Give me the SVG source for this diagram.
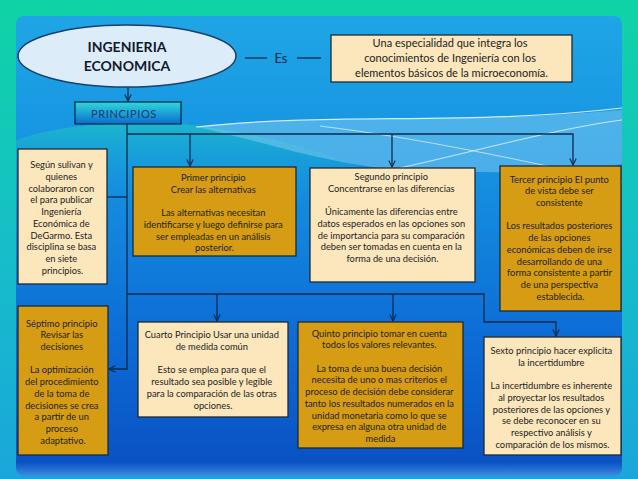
<svg xmlns="http://www.w3.org/2000/svg" width="638" height="479" viewBox="0 0 638 479">
<defs>
<style>
.t{font-family:Lato,"Liberation Sans",sans-serif;font-size:9.3px;fill:#232323;text-anchor:middle}
.lt{fill:#fce6bc;stroke:#1d2a33;stroke-width:1.3}
.gd{fill:#d69c14;stroke:#1d2a33;stroke-width:1.3}
.c{fill:none;stroke:#0e2a4c;stroke-width:1.3}
.ca{fill:none;stroke:#0e2a4c;stroke-width:1.3;marker-end:url(#arr)}
</style>
<marker id="arr" viewBox="0 0 10 10" refX="9" refY="5" markerWidth="8" markerHeight="8" markerUnits="userSpaceOnUse" orient="auto">
<path d="M1,1 L9,5 L1,9" fill="none" stroke="#0e2a4c" stroke-width="1.4"/>
</marker>
<linearGradient id="outer" x1="0" y1="0" x2="0" y2="1">
<stop offset="0" stop-color="#0fd3a5"/>
<stop offset="0.5" stop-color="#16bfc8"/>
<stop offset="1" stop-color="#1aa6dc"/>
</linearGradient>
<linearGradient id="panel" x1="0" y1="0" x2="0" y2="1">
<stop offset="0" stop-color="#1fa6e6"/>
<stop offset="0.35" stop-color="#1590e0"/>
<stop offset="0.7" stop-color="#0d6cd6"/>
<stop offset="0.97" stop-color="#0a52c4"/>
<stop offset="1" stop-color="#3c8ce0"/>
</linearGradient>
<linearGradient id="teal" x1="0" y1="0" x2="0" y2="1">
<stop offset="0" stop-color="#1cb6cc"/>
<stop offset="1" stop-color="#1596dc" stop-opacity="0"/>
</linearGradient>
<linearGradient id="pr" x1="0" y1="0" x2="0" y2="1">
<stop offset="0" stop-color="#30d8dc"/>
<stop offset="1" stop-color="#0a6cd0"/>
</linearGradient>
</defs>

<rect x="0" y="0" width="638" height="479" fill="url(#outer)"/>
<rect x="16" y="16" width="606" height="460" rx="8" fill="url(#panel)"/>
<path d="M16,140 C60,124 140,118 200,126 C300,140 380,170 430,200 L16,200 Z" fill="url(#teal)"/>
<path d="M196,127 C320,114 470,124 622,110 L622,164 C560,178 500,170 430,172 C340,170 260,140 196,127 Z" fill="#8fd3f4" opacity="0.45"/>
<path d="M196,127 C330,112 470,126 622,108" fill="none" stroke="#ffffff" stroke-width="1.2" opacity="0.8"/>
<path d="M320,126 C420,138 520,160 622,182" fill="none" stroke="#ffffff" stroke-width="1" opacity="0.6"/>
<path d="M400,168 C480,150 560,128 622,120" fill="none" stroke="#ffffff" stroke-width="1" opacity="0.7"/>

<g id="connectors">
<path class="c" d="M245,58 H267"/>
<path class="c" d="M297,58 H321"/>
<path class="ca" d="M128,87 V101"/>
<path class="ca" d="M127,124 V369 H109"/>
<path class="ca" d="M127,134 H573 V165"/>
<path class="ca" d="M190,134 V166"/>
<path class="ca" d="M392,134 V167"/>
<path class="c" d="M107,197 H127"/>
<path class="ca" d="M127,294 H484 V322 H556 V336"/>
<path class="ca" d="M217,294 V321"/>
<path class="ca" d="M393,294 V321"/>
</g>

<g id="ingenieria">
<ellipse cx="127" cy="56" rx="109" ry="31" fill="#dcedf9" stroke="#1c3f6a" stroke-width="1.5"/>
<text class="t" x="127" y="52" style="font-size:14px;font-weight:bold;fill:#121a2a">INGENIERIA</text>
<text class="t" x="127" y="71" style="font-size:14px;font-weight:bold;fill:#121a2a">ECONOMICA</text>
</g>

<g id="es">
<text class="t" x="281" y="63" style="font-size:13px;fill:#10284a">Es</text>
</g>

<g id="definicion">
<rect class="lt" x="331" y="35" width="241" height="47"/>
<text class="t" style="font-size:11px">
<tspan x="451.5" y="47">Una especialidad que integra los</tspan>
<tspan x="451.5" y="62">conocimientos de Ingeniería con los</tspan>
<tspan x="451.5" y="77">elementos básicos de la microeconomía.</tspan>
</text>
</g>

<g id="principios">
<rect x="75" y="102" width="106" height="22" fill="url(#pr)" stroke="#10263e" stroke-width="1.2"/>
<text class="t" x="91" y="118" style="font-size:11px;text-anchor:start;letter-spacing:0.6px;fill:#1a3a6c">PRINCIPIOS</text>
</g>

<g id="segun">
<rect class="lt" x="18" y="149" width="89" height="135"/>
<text class="t">
<tspan x="62.5" y="168.3">Según sulivan y</tspan>
<tspan x="62.5" y="180">quienes</tspan>
<tspan x="62.5" y="191.7">colaboraron con</tspan>
<tspan x="62.5" y="203.4">el para publicar</tspan>
<tspan x="62.5" y="215.1">Ingeniería</tspan>
<tspan x="62.5" y="226.8">Económica de</tspan>
<tspan x="62.5" y="238.5">DeGarmo. Esta</tspan>
<tspan x="62.5" y="250.2">disciplina se basa</tspan>
<tspan x="62.5" y="261.9">en siete</tspan>
<tspan x="62.5" y="273.6">principios.</tspan>
</text>
</g>

<g id="primer">
<rect class="gd" x="133" y="167" width="163" height="89"/>
<text class="t">
<tspan x="214.5" y="181">Primer principio</tspan>
<tspan x="214.5" y="192.7">Crear las alternativas</tspan>
<tspan x="214.5" y="216.1">Las alternativas necesitan</tspan>
<tspan x="214.5" y="227.8">identificarse y luego definirse para</tspan>
<tspan x="214.5" y="239.5">ser empleadas en un análisis</tspan>
<tspan x="214.5" y="251.2">posterior.</tspan>
</text>
</g>

<g id="segundo">
<rect class="lt" x="310" y="168" width="165" height="114"/>
<text class="t">
<tspan x="392.5" y="180">Segundo principio</tspan>
<tspan x="392.5" y="191.7">Concentrarse en las diferencias</tspan>
<tspan x="392.5" y="215.1">Únicamente las diferencias entre</tspan>
<tspan x="392.5" y="226.8">datos esperados en las opciones son</tspan>
<tspan x="392.5" y="238.5">de importancia para su comparación</tspan>
<tspan x="392.5" y="250.2">deben ser tomadas en cuenta en la</tspan>
<tspan x="392.5" y="261.9">forma de una decisión.</tspan>
</text>
</g>

<g id="tercer">
<rect class="gd" x="500" y="166" width="121" height="145"/>
<text class="t">
<tspan x="560.5" y="182.6">Tercer principio El punto</tspan>
<tspan x="560.5" y="194.3">de vista debe ser</tspan>
<tspan x="560.5" y="206">consistente</tspan>
<tspan x="560.5" y="229.4">Los resultados posteriores</tspan>
<tspan x="560.5" y="241.1">de las opciones</tspan>
<tspan x="560.5" y="252.8">económicas deben de irse</tspan>
<tspan x="560.5" y="264.5">desarrollando de una</tspan>
<tspan x="560.5" y="276.2">forma consistente a partir</tspan>
<tspan x="560.5" y="287.9">de una perspectiva</tspan>
<tspan x="560.5" y="299.6">establecida.</tspan>
</text>
</g>

<g id="septimo">
<rect class="gd" x="18" y="306" width="90" height="149"/>
<text class="t">
<tspan x="63" y="326.6">Séptimo principio</tspan>
<tspan x="63" y="338.3">Revisar las</tspan>
<tspan x="63" y="350">decisiones</tspan>
<tspan x="63" y="373.4">La optimización</tspan>
<tspan x="63" y="385.1">del procedimiento</tspan>
<tspan x="63" y="396.8">de la toma de</tspan>
<tspan x="63" y="408.5">decisiones se crea</tspan>
<tspan x="63" y="420.2">a partir de un</tspan>
<tspan x="63" y="431.9">proceso</tspan>
<tspan x="63" y="443.6">adaptativo.</tspan>
</text>
</g>

<g id="cuarto">
<rect class="lt" x="138" y="322" width="150" height="95"/>
<text class="t">
<tspan x="213" y="338.3">Cuarto Principio Usar una unidad</tspan>
<tspan x="213" y="350">de medida común</tspan>
<tspan x="213" y="373.4">Esto se emplea para que el</tspan>
<tspan x="213" y="385.1">resultado sea posible y legible</tspan>
<tspan x="213" y="396.8">para la comparación de las otras</tspan>
<tspan x="213" y="408.5">opciones.</tspan>
</text>
</g>

<g id="quinto">
<rect class="gd" x="298" y="322" width="165" height="126"/>
<text class="t">
<tspan x="380.5" y="336.6">Quinto principio tomar en cuenta</tspan>
<tspan x="380.5" y="348.3">todos los valores relevantes.</tspan>
<tspan x="380.5" y="371.7">La toma de una buena decisión</tspan>
<tspan x="380.5" y="383.4">necesita de uno o mas criterios el</tspan>
<tspan x="380.5" y="395.1">proceso de decisión debe considerar</tspan>
<tspan x="380.5" y="406.8">tanto los resultados numerados en la</tspan>
<tspan x="380.5" y="418.5">unidad monetaria como lo que se</tspan>
<tspan x="380.5" y="430.2">expresa en alguna otra unidad de</tspan>
<tspan x="380.5" y="441.9">medida</tspan>
</text>
</g>

<g id="sexto">
<rect class="lt" x="484" y="337" width="137" height="118"/>
<text class="t">
<tspan x="552.5" y="354">Sexto principio hacer explicita</tspan>
<tspan x="552.5" y="365.7">la incertidumbre</tspan>
<tspan x="552.5" y="389.1">La incertidumbre es inherente</tspan>
<tspan x="552.5" y="400.8">al proyectar los resultados</tspan>
<tspan x="552.5" y="412.5">posteriores de las opciones y</tspan>
<tspan x="552.5" y="424.2">se debe reconocer en su</tspan>
<tspan x="552.5" y="435.9">respectivo análisis y</tspan>
<tspan x="552.5" y="447.6">comparación de los mismos.</tspan>
</text>
</g>
</svg>
